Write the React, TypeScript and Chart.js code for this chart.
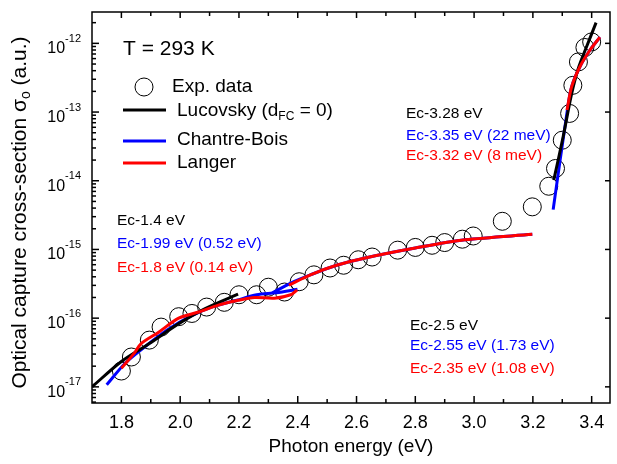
import React, { useEffect, useRef } from "react";
import { Chart, registerables } from "chart.js";

Chart.register(...registerables);

const FONT = '"Liberation Sans", Arial, sans-serif';
const BLUE = "#0000ff";
const RED = "#ff0000";
const BLACK = "#000000";

// ---- Experimental data (photon energy eV, sigma a.u.) ----
const expEnergy = [1.80, 1.834, 1.895, 1.935, 1.995, 2.04, 2.09, 2.15, 2.20, 2.26, 2.30, 2.355, 2.405, 2.455, 2.51, 2.556, 2.606, 2.653, 2.74, 2.80, 2.857, 2.90, 2.96, 2.997, 3.096, 3.198, 3.254, 3.277, 3.30, 3.325, 3.336, 3.355, 3.377, 3.40];
const expSigma = [1.70e-17, 2.72e-17, 4.79e-17, 7.41e-17, 1.05e-16, 1.17e-16, 1.45e-16, 1.70e-16, 2.19e-16, 2.19e-16, 2.82e-16, 2.40e-16, 3.39e-16, 4.27e-16, 5.37e-16, 5.89e-16, 7.08e-16, 7.76e-16, 9.77e-16, 1.07e-15, 1.15e-15, 1.26e-15, 1.41e-15, 1.57e-15, 2.57e-15, 4.17e-15, 8.32e-15, 1.51e-14, 3.89e-14, 9.55e-14, 2.45e-13, 5.37e-13, 8.71e-13, 1.05e-12];

// ---- Lucovsky fit (two segments) ----
const lucLowE = [1.70, 1.80, 1.895, 1.995, 2.085, 2.197];
const lucLowS = [1.0e-17, 2.34e-17, 4.27e-17, 8.32e-17, 1.38e-16, 2.24e-16];
const lucHighE = [3.271, 3.303, 3.331, 3.355, 3.385, 3.415];
const lucHighS = [1.02e-14, 4.37e-14, 1.78e-13, 4.37e-13, 9.44e-13, 2.0e-12];

// ---- Chantre-Bois fit (three segments) ----
const cbLowE = [1.75, 1.812, 1.879, 1.957, 2.036, 2.114, 2.192, 2.26, 2.327, 2.399];
const cbLowS = [1.07e-17, 2.19e-17, 3.8e-17, 6.76e-17, 1.07e-16, 1.48e-16, 1.82e-16, 2.19e-16, 2.34e-16, 2.63e-16];
const cbMidE = [2.31, 2.376, 2.443, 2.532, 2.633, 2.80, 2.969, 3.198];
const cbMidS = [2.29e-16, 3.24e-16, 4.27e-16, 5.89e-16, 7.59e-16, 1.05e-15, 1.38e-15, 1.66e-15];
const cbHighE = [3.269, 3.318, 3.332, 3.36, 3.394, 3.428];
const cbHighS = [3.8e-15, 1.12e-13, 2.34e-13, 4.57e-13, 7.94e-13, 1.23e-12];

// ---- Langer fit (three segments) ----
const lgLowE = [1.80, 1.844, 1.867, 1.928, 1.995, 2.063, 2.13, 2.197, 2.253, 2.32, 2.376, 2.398];
const lgLowS = [1.86e-17, 3.09e-17, 4.27e-17, 6.31e-17, 1.0e-16, 1.23e-16, 1.55e-16, 1.82e-16, 2.0e-16, 1.95e-16, 2.19e-16, 2.57e-16];
const lgMidE = [2.37, 2.443, 2.532, 2.633, 2.80, 2.969, 3.198];
const lgMidS = [3.02e-16, 4.27e-16, 5.89e-16, 7.59e-16, 1.05e-15, 1.38e-15, 1.66e-15];
const lgHighE = [3.316, 3.332, 3.36, 3.394, 3.428];
const lgHighS = [1.07e-13, 2.34e-13, 4.57e-13, 7.94e-13, 1.23e-12];

// ---- Axes ----
const xMin = 1.7;
const xMax = 3.4624;
const yMin = 5.82e-18;
const yMax = 2.86e-12;
const xMajorTicks = [1.8, 2.0, 2.2, 2.4, 2.6, 2.8, 3.0, 3.2, 3.4];
const xMinorTicks = [1.9, 2.1, 2.3, 2.5, 2.7, 2.9, 3.1, 3.3];
const yDecadeExponents = [-17, -16, -15, -14, -13, -12];

// ---- Text ----
const xTitle = "Photon energy (eV)";
const tempLabel = "T = 293 K";
const legendLabels = ["Exp. data", "Lucovsky (d", "FC", " = 0)", "Chantre-Bois", "Langer"];
const annotLow = ["Ec-1.4 eV", "Ec-1.99 eV (0.52 eV)", "Ec-1.8 eV (0.14 eV)"];
const annotMid = ["Ec-2.5 eV", "Ec-2.55 eV (1.73 eV)", "Ec-2.35 eV (1.08 eV)"];
const annotHigh = ["Ec-3.28 eV", "Ec-3.35 eV (22 meV)", "Ec-3.32 eV (8 meV)"];
const annotColors = [BLACK, BLUE, RED];

function pts(xs: number[], ys: number[]) {
  return xs.map((x, i) => ({ x, y: ys[i] }));
}
function segs(list: [number[], number[]][]) {
  const out: any[] = [];
  list.forEach(([xs, ys], k) => {
    if (k > 0) out.push({ x: xs[0], y: null });
    out.push(...pts(xs, ys));
  });
  return out;
}

const decoPlugin = {
  id: "deco",
  afterDatasetsDraw(chart: any) {
    const { ctx, chartArea: a, scales } = chart;
    const xs = scales.x;
    const ys = scales.y;
    ctx.save();
    ctx.strokeStyle = BLACK;
    ctx.fillStyle = BLACK;
    ctx.lineWidth = 1.5;
    // frame
    ctx.strokeRect(a.left, a.top, a.right - a.left, a.bottom - a.top);
    // x ticks (inward, top and bottom)
    const vline = (px: number, y0: number, y1: number) => {
      ctx.beginPath();
      ctx.moveTo(px, y0);
      ctx.lineTo(px, y1);
      ctx.stroke();
    };
    const hline = (py: number, x0: number, x1: number) => {
      ctx.beginPath();
      ctx.moveTo(x0, py);
      ctx.lineTo(x1, py);
      ctx.stroke();
    };
    xMajorTicks.forEach((v) => {
      const px = xs.getPixelForValue(v);
      vline(px, a.bottom, a.bottom - 7);
      vline(px, a.top, a.top + 6);
    });
    xMinorTicks.forEach((v) => {
      const px = xs.getPixelForValue(v);
      vline(px, a.bottom, a.bottom - 4);
      vline(px, a.top, a.top + 4);
    });
    // y ticks
    yDecadeExponents.forEach((e) => {
      const py = ys.getPixelForValue(Math.pow(10, e));
      hline(py, a.left, a.left + 7);
      hline(py, a.right, a.right - 5);
    });
    for (let e = -18; e <= -12; e++) {
      for (let k = 2; k <= 9; k++) {
        const v = k * Math.pow(10, e);
        if (v < yMin || v > yMax) continue;
        const py = ys.getPixelForValue(v);
        hline(py, a.left, a.left + 4);
      }
    }
    // y labels 10^n
    yDecadeExponents.forEach((e) => {
      const py = ys.getPixelForValue(Math.pow(10, e));
      const sup = String(e);
      ctx.font = `11px ${FONT}`;
      const sw = ctx.measureText(sup).width;
      ctx.font = `16px ${FONT}`;
      const bw = ctx.measureText("10").width;
      const right = a.left - 11;
      ctx.textBaseline = "alphabetic";
      ctx.textAlign = "left";
      ctx.fillText("10", right - sw - bw, py + 10);
      ctx.font = `11px ${FONT}`;
      ctx.fillText(sup, right - sw, py - 1.5);
    });
    // y title (rotated)
    ctx.save();
    ctx.translate(26, (a.top + a.bottom) / 2 + 5);
    ctx.rotate(-Math.PI / 2);
    const main = "Optical capture cross-section \u03c3";
    const sub = "o";
    const tail = " (a.u.)";
    ctx.font = `21px ${FONT}`;
    const w1 = ctx.measureText(main).width;
    const w3 = ctx.measureText(tail).width;
    ctx.font = `14px ${FONT}`;
    const w2 = ctx.measureText(sub).width;
    let sx = -(w1 + w2 + w3) / 2;
    ctx.textBaseline = "alphabetic";
    ctx.textAlign = "left";
    ctx.font = `21px ${FONT}`;
    ctx.fillText(main, sx, 0);
    sx += w1;
    ctx.font = `14px ${FONT}`;
    ctx.fillText(sub, sx, 4);
    sx += w2;
    ctx.font = `21px ${FONT}`;
    ctx.fillText(tail, sx, 0);
    ctx.restore();

    // Temperature label and legend
    ctx.textBaseline = "middle";
    ctx.textAlign = "left";
    ctx.font = `21px ${FONT}`;
    ctx.fillText(tempLabel, 123, 49);
    // exp circle
    ctx.lineWidth = 1;
    ctx.beginPath();
    ctx.arc(144, 87, 9, 0, Math.PI * 2);
    ctx.stroke();
    ctx.font = `19px ${FONT}`;
    ctx.fillText(legendLabels[0], 172, 87);
    // line swatches
    const swatch = (color: string, y: number) => {
      ctx.strokeStyle = color;
      ctx.lineWidth = 3;
      ctx.beginPath();
      ctx.moveTo(123, y);
      ctx.lineTo(166, y);
      ctx.stroke();
    };
    swatch(BLACK, 110);
    swatch(BLUE, 141);
    swatch(RED, 163);
    ctx.fillStyle = BLACK;
    ctx.font = `19px ${FONT}`;
    let lx = 177;
    ctx.fillText(legendLabels[1], lx, 111);
    lx += ctx.measureText(legendLabels[1]).width;
    ctx.font = `12px ${FONT}`;
    ctx.fillText(legendLabels[2], lx, 117);
    lx += ctx.measureText(legendLabels[2]).width;
    ctx.font = `19px ${FONT}`;
    ctx.fillText(legendLabels[3], lx, 111);
    ctx.fillText(legendLabels[4], 177, 140);
    ctx.fillText(legendLabels[5], 177, 163);

    // annotations
    ctx.font = `15.5px ${FONT}`;
    const group = (lines: string[], x: number, yList: number[]) => {
      lines.forEach((t, i) => {
        ctx.fillStyle = annotColors[i];
        ctx.fillText(t, x, yList[i]);
      });
    };
    group(annotLow, 117, [221, 244, 267.5]);
    group(annotHigh, 406, [114, 136, 156]);
    group(annotMid, 410, [326, 346, 368.5]);
    ctx.restore();
  },
};

export default function App() {
  const ref = useRef<HTMLCanvasElement | null>(null);
  useEffect(() => {
    if (!ref.current) return;
    Chart.defaults.font.family = FONT;
    const lineDs = (label: string, color: string, data: any[], order: number) => ({
      type: "line" as const,
      label,
      data,
      borderColor: color,
      backgroundColor: color,
      borderWidth: 3,
      pointRadius: 0,
      tension: 0.3,
      spanGaps: false,
      order,
    });
    const chart = new Chart(ref.current, {
      type: "line",
      data: {
        datasets: [
          {
            type: "line" as const,
            label: "Exp. data",
            data: pts(expEnergy, expSigma),
            showLine: false,
            pointStyle: "circle",
            pointRadius: 9,
            pointBorderWidth: 1,
            pointBorderColor: BLACK,
            pointBackgroundColor: "rgba(0,0,0,0)",
            borderColor: BLACK,
            order: 3,
          },
          lineDs("Chantre-Bois", BLUE, segs([[cbLowE, cbLowS], [cbMidE, cbMidS], [cbHighE, cbHighS]]), 2),
          lineDs("Lucovsky (dFC = 0)", BLACK, segs([[lucLowE, lucLowS], [lucHighE, lucHighS]]), 1),
          lineDs("Langer", RED, segs([[lgLowE, lgLowS], [lgMidE, lgMidS], [lgHighE, lgHighS]]), 0),
        ],
      },
      options: {
        animation: false,
        responsive: true,
        maintainAspectRatio: false,
        layout: { padding: { top: 12, right: 2.5, left: 0, bottom: 0 } },
        plugins: { legend: { display: false }, tooltip: { enabled: false } },
        scales: {
          x: {
            type: "linear",
            min: xMin,
            max: xMax,
            grid: { display: false, drawTicks: false },
            border: { display: false },
            afterBuildTicks: (s: any) => {
              s.ticks = xMajorTicks.map((v) => ({ value: v }));
            },
            afterFit: (s: any) => {
              s.height = 61;
            },
            ticks: {
              color: BLACK,
              font: { size: 18 },
              padding: 9,
              maxRotation: 0,
              callback: (v: any) => Number(v).toFixed(1),
            },
            title: {
              display: true,
              text: xTitle,
              color: BLACK,
              font: { size: 19 },
              padding: { top: 0, bottom: 6 },
            },
          },
          y: {
            type: "logarithmic",
            min: yMin,
            max: yMax,
            grid: { display: false, drawTicks: false },
            border: { display: false },
            ticks: { display: false },
            afterFit: (s: any) => {
              s.width = 92;
            },
          },
        },
      },
      plugins: [decoPlugin],
    });
    return () => chart.destroy();
  }, []);
  return (
    <div style={{ position: "fixed", left: 0, top: 0, width: 620, height: 464, background: "#fff" }}>
      <canvas ref={ref} />
    </div>
  );
}
